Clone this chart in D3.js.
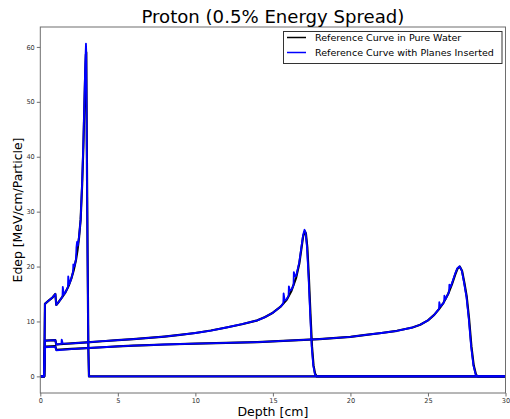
<!DOCTYPE html>
<html><head><meta charset="utf-8">
<script src="https://cdn.jsdelivr.net/npm/d3@7"></script>
<style>body{margin:0;background:#fff}svg{display:block}text{font-family:"DejaVu Sans",sans-serif}</style>
</head><body>
<svg id="c" width="510" height="419"></svg>
<script>
const title = "Proton (0.5% Energy Spread)";
const xLabel = "Depth [cm]";
const yLabel = "Edep [MeV/cm/Particle]";
const seriesNames = ["Reference Curve in Pure Water", "Reference Curve with Planes Inserted"];
const seriesColors = ["#000000", "#0000ff"];
const xTicks = [0, 5, 10, 15, 20, 25, 30];
const yTicks = [0, 10, 20, 30, 40, 50, 60];

// Pure water, three beam energies: [depth cm, Edep]
const water1 = [[0,0],[0.25,0],[0.3,13.2],[0.5,13.7],[0.8,14.4],[0.97,15.0],[1.03,13.0],[1.2,13.6],[1.4,14.4],[1.6,15.2],[1.8,16.3],[2.0,17.8],[2.15,19.3],[2.3,21.2],[2.4,23.0],[2.5,25.3],[2.6,28.5],[2.7,35],[2.78,42],[2.85,50],[2.9,55.5],[2.94,58.6],[2.965,59.0],[3.0,42],[3.05,22],[3.1,5],[3.14,0],[30,0]];
const water2 = [[0,0],[0.25,0],[0.3,6.5],[0.97,6.6],[1.03,5.8],[2,6.0],[3,6.2],[4,6.4],[5,6.6],[6,6.8],[7,7.0],[8,7.25],[9,7.55],[10,7.9],[11,8.35],[12,8.9],[13,9.5],[14,10.2],[14.5,10.8],[15,11.6],[15.5,12.7],[15.9,14.0],[16.2,15.6],[16.5,18],[16.7,20.5],[16.85,23.5],[16.95,25.5],[17.06,26.4],[17.13,26.0],[17.22,23.5],[17.32,18],[17.42,11.5],[17.52,5.5],[17.62,2],[17.72,0.5],[17.82,0],[30,0]];
const water3 = [[0,0],[0.25,0],[0.3,5.4],[0.97,5.5],[1.03,4.85],[2,5.0],[3,5.15],[4,5.3],[5,5.45],[6,5.6],[7,5.7],[8,5.8],[10,5.95],[12,6.1],[14,6.25],[16,6.5],[18,6.8],[20,7.2],[21,7.55],[22,7.9],[23,8.3],[24,8.9],[24.5,9.4],[25,10.2],[25.4,11.2],[25.7,12.2],[26.0,13.4],[26.3,15.0],[26.55,16.8],[26.75,18.5],[26.9,19.6],[27.05,20.0],[27.2,19.2],[27.35,17.0],[27.5,14.5],[27.65,10.5],[27.8,5.5],[27.95,2],[28.1,0.3],[28.2,0],[30,0]];

// With planes inserted
const planes1 = [[0,0],[0.25,0],[0.3,13.2],[0.5,13.7],[0.8,14.4],[0.97,15.0],[1.03,13.0],[1.2,13.6],[1.43,14.5],[1.45,16.3],[1.52,14.9],[1.6,15.2],[1.78,16.2],[1.8,18.2],[1.87,16.8],[2.0,17.8],[2.11,19.0],[2.13,20.4],[2.2,20.0],[2.3,21.3],[2.33,23.5],[2.37,24.5],[2.42,23.8],[2.5,25.5],[2.6,28.5],[2.7,35.5],[2.78,43],[2.85,51],[2.9,57],[2.945,60.6],[2.96,59.5],[3.0,41],[3.05,21],[3.1,4.5],[3.14,0],[30,0]];
const planes2 = [[0,0],[0.25,0],[0.3,6.5],[0.97,6.6],[1.03,5.8],[1.36,5.9],[1.38,6.7],[1.45,5.95],[2,6.0],[3,6.2],[4,6.4],[5,6.6],[6,6.8],[7,7.0],[8,7.25],[9,7.55],[10,7.9],[11,8.35],[12,8.9],[13,9.5],[14,10.2],[14.5,10.8],[15,11.6],[15.5,12.7],[15.67,13.3],[15.69,15.1],[15.76,13.8],[15.9,14.1],[16.01,14.7],[16.03,16.4],[16.1,15.6],[16.2,15.8],[16.33,16.6],[16.35,19.0],[16.42,18.2],[16.5,18.3],[16.7,20.8],[16.85,23.8],[16.95,25.8],[17.04,26.7],[17.11,26.2],[17.2,23.5],[17.3,18],[17.4,11.5],[17.5,5.5],[17.6,2],[17.7,0.5],[17.8,0],[30,0]];
const planes3 = [[0,0],[0.25,0],[0.3,5.3],[0.97,5.4],[1.03,4.75],[2,4.95],[3,5.15],[4,5.3],[5,5.45],[6,5.6],[7,5.7],[8,5.8],[10,5.95],[12,6.1],[14,6.25],[16,6.5],[18,6.8],[20,7.2],[21,7.55],[22,7.9],[23,8.3],[24,8.9],[24.5,9.4],[25,10.2],[25.4,11.2],[25.71,12.3],[25.73,13.5],[25.8,12.7],[26.04,13.5],[26.06,14.7],[26.13,14.0],[26.36,15.4],[26.38,16.7],[26.45,16.2],[26.55,17.0],[26.75,18.7],[26.9,19.7],[27.03,20.05],[27.18,19.3],[27.33,17.0],[27.48,14.5],[27.63,10.5],[27.78,5.5],[27.93,2],[28.08,0.3],[28.18,0],[30,0]];

const waterSeries = [water1, water2, water3];
const planeSeries = [planes1, planes2, planes3];

const svg = d3.select("#c");
const m = {left: 40.3, right: 505.5, top: 27, bottom: 393};
const x = d3.scaleLinear().domain([0, 30]).range([m.left, m.right]);
const y = d3.scaleLinear().domain([-3.03, 63.63]).range([m.bottom, m.top]);

svg.append("defs").append("clipPath").attr("id","clip").append("rect")
  .attr("x", m.left).attr("y", m.top).attr("width", m.right-m.left).attr("height", m.bottom-m.top);

const line = d3.line().x(d => x(d[0])).y(d => y(d[1]));
const g = svg.append("g").attr("clip-path","url(#clip)");
waterSeries.forEach(s => g.append("path").attr("d", line(s)).attr("fill","none")
  .attr("stroke", seriesColors[0]).attr("stroke-width", 2.2).attr("stroke-linejoin","round"));
planeSeries.forEach(s => g.append("path").attr("d", line(s)).attr("fill","none")
  .attr("stroke", seriesColors[1]).attr("stroke-width", 1.8).attr("stroke-linejoin","round"));

// frame
svg.append("rect").attr("x", m.left).attr("y", m.top).attr("width", m.right-m.left)
  .attr("height", m.bottom-m.top).attr("fill","none").attr("stroke","#6e6e6e").attr("stroke-width",1);

const xAxis = svg.append("g").attr("transform", `translate(0,${m.bottom})`)
  .call(d3.axisBottom(x).tickValues(xTicks).tickSize(3.5).tickPadding(2).tickFormat(d3.format("d")));
const yAxis = svg.append("g").attr("transform", `translate(${m.left},0)`)
  .call(d3.axisLeft(y).tickValues(yTicks).tickSize(3.5).tickPadding(2).tickFormat(d3.format("d")));
[xAxis, yAxis].forEach(a => {
  a.select(".domain").remove();
  a.selectAll(".tick line").attr("stroke","#6e6e6e");
  a.selectAll(".tick text").attr("fill","#333").style("font-family","DejaVu Sans").style("font-size","6.6px");
});

function fit(t, w) {
  const len = t.node().getComputedTextLength();
  const fs = parseFloat(t.style("font-size"));
  const nf = fs * w / len;
  t.style("font-size", nf + "px");
  return nf;
}

const tt = svg.append("text").attr("x", (m.left+m.right)/2).attr("y", 22.5).attr("text-anchor","middle")
  .style("font-size","19px").attr("fill","#000").text(title);
fit(tt, 263);
const xl = svg.append("text").attr("x", (m.left+m.right)/2).attr("y", 416).attr("text-anchor","middle")
  .style("font-size","13px").attr("fill","#000").text(xLabel);
fit(xl, 71);
const yl = svg.append("text").attr("transform", `translate(22,${(m.top+m.bottom)/2}) rotate(-90)`)
  .attr("text-anchor","middle").style("font-size","13px").attr("fill","#000").text(yLabel);
fit(yl, 145);

// legend
const lg = svg.append("g");
lg.append("rect").attr("x", 283.5).attr("y", 31.5).attr("width", 218.5).attr("height", 32)
  .attr("fill","#fff").attr("stroke","#333").attr("stroke-width",1);
const texts = seriesNames.map((n, i) => {
  const yy = 37.5 + i*15;
  lg.append("line").attr("x1", 287).attr("x2", 306).attr("y1", yy).attr("y2", yy)
    .attr("stroke", seriesColors[i]).attr("stroke-width", 1.5);
  return lg.append("text").attr("x", 315).attr("y", yy + 3.6).style("font-size","10px")
    .attr("fill","#000").text(n);
});
const lf = fit(texts[1], 179);
texts[0].style("font-size", lf + "px");
</script>
</body></html>
